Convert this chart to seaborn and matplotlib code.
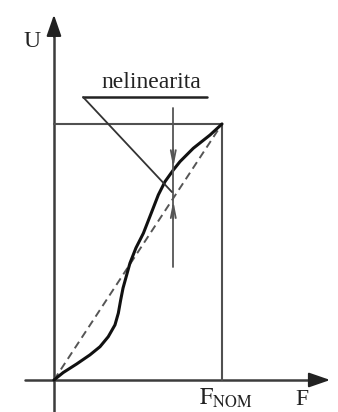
import numpy as np
import pandas as pd
import seaborn as sns
import matplotlib.pyplot as plt

# characteristic U(F), F and U normalised to the nominal point (F_NOM, U_NOM) = (1, 1)
f_curve = [0.0, 0.055, 0.135, 0.214, 0.274, 0.323, 0.363, 0.383, 0.397, 0.411, 0.452,
           0.488, 0.532, 0.582, 0.621, 0.661, 0.710, 0.750, 0.829, 0.929, 1.0]
u_curve = [0.0, 0.029, 0.0625, 0.098, 0.130, 0.169, 0.215, 0.261, 0.3125, 0.359, 0.456,
           0.516, 0.573, 0.657, 0.723, 0.775, 0.820, 0.853, 0.905, 0.957, 1.0]
f_ideal = [0.0, 1.0]
u_ideal = [0.0, 1.0]

# where the nonlinearity is marked
f_mark = 0.710
u_mark_curve = 0.820
u_mark_ideal = 0.710

label_text = 'nelinearita'
x_label = 'F'
y_label = 'U'
nom_label = r'$\mathrm{F_{NOM}}$'

sns.set_style('white')
plt.rcParams['font.family'] = ['Liberation Serif', 'DejaVu Serif']
plt.rcParams['mathtext.fontset'] = 'stix'

fig = plt.figure(figsize=(3.38, 4.12), dpi=100)
ax = fig.add_axes([0, 0, 1, 1])
ax.set_xlim(-0.321, 1.690)
ax.set_ylim(-0.125, 1.484)
ax.axis('off')

gray = '#3c3c3c'

# axes with arrows
ax.plot([-0.173, 1.57], [0, 0], color=gray, lw=1.8)
ax.plot([0, 0], [-0.2, 1.36], color=gray, lw=1.8)
ax.annotate('', xy=(1.66, 0), xytext=(1.55, 0),
            arrowprops=dict(arrowstyle='-|>,head_length=1.3,head_width=0.45', color='#222222', lw=1.5))
ax.annotate('', xy=(0, 1.4375), xytext=(0, 1.33),
            arrowprops=dict(arrowstyle='-|>,head_length=1.3,head_width=0.45', color='#222222', lw=1.5))

# nominal rectangle
ax.plot([0, 1, 1], [1, 1, 0], color='#505050', lw=1.5)

# ideal (dashed) and real characteristic
df_ideal = pd.DataFrame({'F': f_ideal, 'U': u_ideal})
df_curve = pd.DataFrame({'F': f_curve, 'U': u_curve})
sns.lineplot(data=df_ideal, x='F', y='U', ax=ax, color='#555555', lw=1.4, linestyle=(0, (4, 2.5)))
sns.lineplot(data=df_curve, x='F', y='U', ax=ax, color='#111111', lw=2.2, sort=False,
             solid_joinstyle='round', solid_capstyle='round')

# nonlinearity marker
ax.plot([f_mark, f_mark], [0.441, 1.0625], color='#555555', lw=1.3)
ax.annotate('', xy=(f_mark, u_mark_curve), xytext=(f_mark, u_mark_curve + 0.09),
            arrowprops=dict(arrowstyle='->,head_length=0.9,head_width=0.18', color='#555555', lw=1.3))
ax.annotate('', xy=(f_mark, u_mark_ideal), xytext=(f_mark, u_mark_ideal - 0.09),
            arrowprops=dict(arrowstyle='->,head_length=0.9,head_width=0.18', color='#555555', lw=1.3))

# label with leader line
ax.plot([0.173, 0.911], [1.105, 1.105], color='#222222', lw=1.8)
ax.plot([0.173, 0.702], [1.105, 0.734], color='#333333', lw=1.3)
ax.text(0.577, 1.14, label_text, ha='center', va='baseline', fontsize=17, color='#222222')

# axis labels
ax.text(-0.128, 1.301, y_label, ha='center', va='baseline', fontsize=17, color='#222222')
ax.text(1.476, -0.098, x_label, ha='center', va='baseline', fontsize=17, color='#222222')
ax.text(1.02, -0.098, nom_label, ha='center', va='baseline', fontsize=17, color='#222222')

fig.savefig('out.png', dpi=100)
